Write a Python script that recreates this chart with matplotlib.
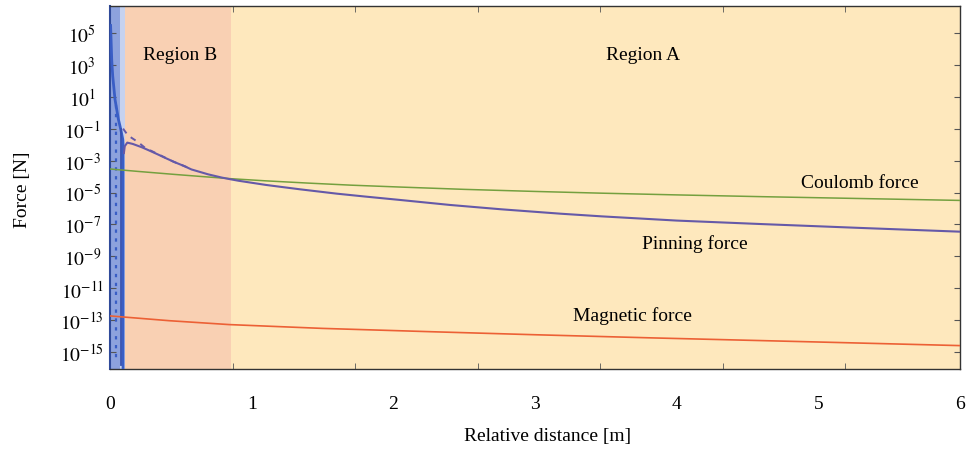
import matplotlib
matplotlib.use("Agg")
import matplotlib.pyplot as plt
import numpy as np

plt.rcParams['font.family'] = ['Liberation Serif', 'DejaVu Serif']
plt.rcParams['mathtext.fontset'] = 'stix'

# values
coulomb_x = [0, 0.2, 0.45, 0.64, 0.85, 1.1, 1.4, 1.7, 2.05, 2.5, 3.0, 3.47,
             4.0, 4.6, 5.3, 6.0]
coulomb_f = [3.0e-4, 2.1e-4, 1.38e-4, 1.02e-4, 7.4e-5, 5.4e-5, 3.9e-5, 2.9e-5,
             2.2e-5, 1.58e-5, 1.17e-5, 9.1e-6, 7.1e-6, 5.5e-6, 4.2e-6, 3.2e-6]

pinning_x = [0.098, 0.104, 0.122, 0.16, 0.221, 0.28, 0.34, 0.4, 0.458, 0.52,
             0.575, 0.693, 0.788, 0.85, 0.906, 1.0, 1.1, 1.2, 1.344, 1.6, 1.8,
             2.05, 2.4, 2.76, 3.18, 3.47, 4.0, 4.6, 5.3, 6.0]
pinning_f = [3.0e-3, 8.1e-3, 1.35e-2, 1.12e-2, 7.1e-3, 4.2e-3, 2.4e-3, 1.35e-3,
             7.9e-4, 4.7e-4, 2.8e-4, 1.38e-4, 8.7e-5, 6.8e-5, 5.5e-5, 4.1e-5,
             3.0e-5, 2.3e-5, 1.58e-5, 8.5e-6, 5.6e-6, 3.4e-6, 1.66e-6, 8.9e-7,
             4.7e-7, 3.2e-7, 1.74e-7, 1.05e-7, 6.0e-8, 3.5e-8]

pinning_dash_x = [0.092, 0.127, 0.198, 0.246, 0.316, 0.446, 0.575]
pinning_dash_f = [1.02e-1, 3.8e-2, 1.45e-2, 6.5e-3, 3.2e-3, 8.7e-4, 3.0e-4]

magnetic_x = [0, 0.42, 0.842, 1.5, 2.3, 3.0, 3.83, 5.0, 6.0]
magnetic_f = [1.82e-13, 9.1e-14, 5.2e-14, 3.0e-14, 1.82e-14, 1.2e-14,
              7.6e-15, 4.2e-15, 2.5e-15]

# steep near-field curve in the blue strip
near_x = [0.004, 0.012, 0.019, 0.035, 0.059, 0.076, 0.090, 0.092, 0.092]
near_f = [3e5, 2e3, 2.0e2, 7.1, 3.9e-1, 9.1e-2, 2.1e-2, 1.0e-2, 1.0e-16]

region_b_end = 0.856
blue_end = 0.071
blue_light_end = 0.106

fig = plt.figure(figsize=(9.66, 4.52), dpi=100)
ax = fig.add_axes([0.1139, 0.1814, 0.88, 0.8031])
ax.set_xlim(0, 6)
ax.set_yscale('log')
ax.set_ylim(10**-16.07, 10**6.7)

ax.axvspan(0, region_b_end, color='#f9d0b3', lw=0, zorder=0)
ax.axvspan(region_b_end, 6, color='#fee8bd', lw=0, zorder=0)
ax.axvspan(0, blue_end, color='#8da2dd', lw=0, zorder=1)
ax.axvspan(blue_end, blue_light_end, color='#c6d2ef', lw=0, zorder=1)

blue = '#3a5ec5'
ax.plot(near_x, near_f, color=blue, lw=2, zorder=3)
ax.plot([0.04, 0.04], [3.0, 3e-16], color=blue, lw=1.6, ls=(0, (1.5, 2.5)), zorder=3)
ax.plot([0.078, 0.078], [1e-1, 1.5e-16], color='#3550b0', lw=1.3, zorder=3)

ax.plot(coulomb_x, coulomb_f, color='#74a03f', lw=1.1, zorder=4)
ax.plot(magnetic_x, magnetic_f, color='#ec6035', lw=1.2, zorder=4)
ax.plot(pinning_dash_x, pinning_dash_f, color='#6559a8', lw=1.4, ls=(0, (3, 3)), zorder=4)
ax.plot(pinning_x, pinning_f, color='#6559a8', lw=1.5, zorder=5)

txt = dict(fontsize=14, ha='center', va='center', zorder=6)
ax.text(0.495, 10**3.68, 'Region B', **txt)
ax.text(3.76, 10**3.68, 'Region A', **txt)
ax.text(5.29, 10**-4.37, 'Coulomb force', **txt)
ax.text(4.13, 10**-8.14, 'Pinning force', **txt)
ax.text(3.69, 10**-12.67, 'Magnetic force', **txt)

# x labels 0..6, tick marks drawn at their own spacing
ax.set_xticks(range(7))
ax.set_xticklabels([str(i) for i in range(7)], fontsize=14)
ax.tick_params(axis='x', which='major', length=0, pad=19)
ax.set_xticks(np.arange(1, 7) * 0.865, minor=True)
ax.tick_params(axis='x', which='minor', direction='in', length=4,
               top=True, bottom=True, color='#555555')

yt = [10.0**e for e in range(5, -16, -2)]
ax.set_yticks(yt)
ax.set_yticklabels([r'$10^{%d}$' % e for e in range(5, -16, -2)], fontsize=14)
ax.yaxis.set_minor_locator(matplotlib.ticker.NullLocator())
ax.tick_params(axis='y', which='major', direction='in', length=4,
               left=True, right=True, pad=20, color='#555555')
for lab in ax.get_yticklabels():
    lab.set_horizontalalignment('center')

for s in ['top', 'bottom', 'right']:
    ax.spines[s].set_color('#333333')
    ax.spines[s].set_linewidth(1.0)
ax.spines['left'].set_color('#2f4a9a')
ax.spines['left'].set_linewidth(1.5)

fig.text(0.023, 1 - 190 / 452, 'Force [N]', rotation=90, fontsize=14,
         ha='center', va='center')
fig.text(0.567, 1 - 437 / 452, 'Relative distance [m]', fontsize=14,
         ha='center', va='center')

fig.savefig('out.png', dpi=100)
